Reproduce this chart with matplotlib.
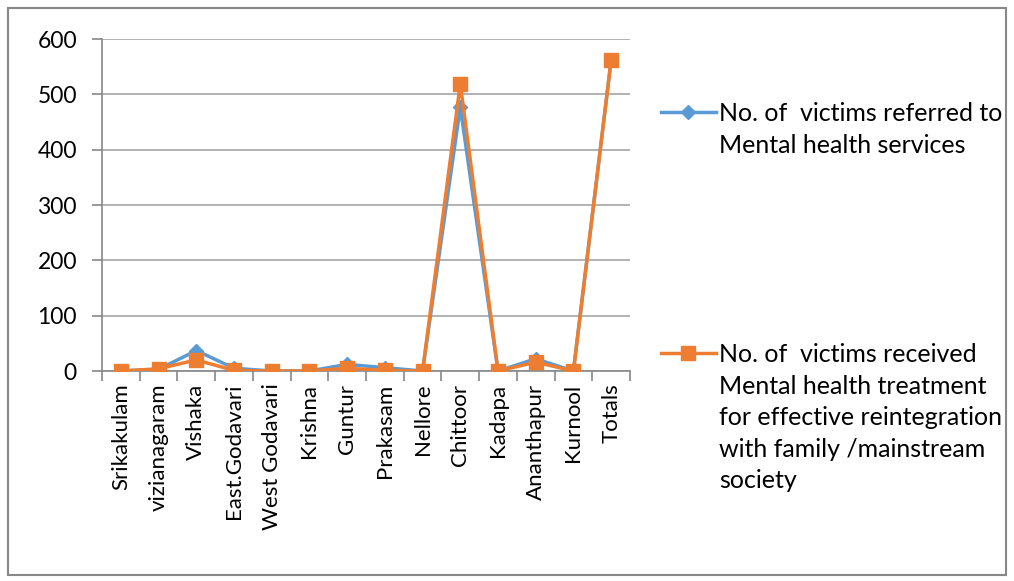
import matplotlib
matplotlib.use("Agg")
import matplotlib.pyplot as plt
from matplotlib.patches import Rectangle
from matplotlib.lines import Line2D
from matplotlib.ticker import FixedLocator

districts = ["Srikakulam", "vizianagaram", "Vishaka", "East.Godavari", "West Godavari",
             "Krishna", "Guntur", "Prakasam", "Nellore", "Chittoor", "Kadapa",
             "Ananthapur", "Kurnool", "Totals"]
referred = [0, 3, 37, 5, 0, 0, 12, 6, 0, 477, 0, 22, 0, 562]
treated = [0, 4, 20, 1, 0, 0, 5, 1, 0, 519, 0, 16, 0, 562]
label_referred = "No. of  victims referred to\nMental health services"
label_treated = ("No. of  victims received\nMental health treatment\n"
                 "for effective reintegration\nwith family /mainstream\nsociety")

plt.rcParams['font.family'] = ['Lato', 'DejaVu Sans']

W, H = 1014, 581
fig = plt.figure(figsize=(W/100, H/100), dpi=100)
ax = fig.add_axes([102/W, 1-371/H, (630-102)/W, (371-39)/H])

blue, orange = "#5B9BD5", "#ED7D31"
x = list(range(len(districts)))
ax.plot(x, referred, color=blue, lw=2.5, marker="D", markersize=7, zorder=3)
ax.plot(x, treated, color=orange, lw=2.5, marker="s", markersize=9.5, zorder=4)

ax.set_xlim(-0.5, len(districts)-0.5)
ax.set_ylim(0, 600)
ax.set_yticks(range(0, 601, 100))
ax.yaxis.grid(True, color="#A6A6A6", lw=1.2)
ax.set_axisbelow(True)
ax.set_xticks(x)
ax.set_xticklabels(districts, rotation=90, fontsize=16)
ax.xaxis.set_minor_locator(FixedLocator([i - 0.5 for i in range(len(districts)+1)]))
ax.tick_params(axis='x', which='major', length=0, pad=9)
ax.tick_params(axis='x', which='minor', length=7, color="#888888", width=1.2)
ax.tick_params(axis='y', length=7, color="#888888", width=1.2, labelsize=16.5, pad=11)
for s in ["top", "right"]:
    ax.spines[s].set_visible(False)
for s in ["left", "bottom"]:
    ax.spines[s].set_color("#888888")
    ax.spines[s].set_linewidth(1.2)

# legend drawn as handles + text, handle aligned with first text line
entries = [(label_referred, blue, "D", 7, 112), (label_treated, orange, "s", 9.5, 353)]
for label, col, mk, ms, yc in entries:
    fig.add_artist(Line2D([661/W, 716/W], [1-yc/H, 1-yc/H], color=col, lw=2.5,
                          transform=fig.transFigure))
    fig.add_artist(Line2D([688/W], [1-yc/H], color=col, marker=mk, markersize=ms,
                          transform=fig.transFigure))
    fig.text(719/W, 1-(yc-10)/H, label, fontsize=18, va="top", ha="left",
             linespacing=1.45)

fig.patches.append(Rectangle((8/W, 6/H), (1006-8)/W, (575-8)/H,
                             transform=fig.transFigure, fill=False, edgecolor="#888888", lw=1.5))

fig.savefig("out.png", dpi=100)
